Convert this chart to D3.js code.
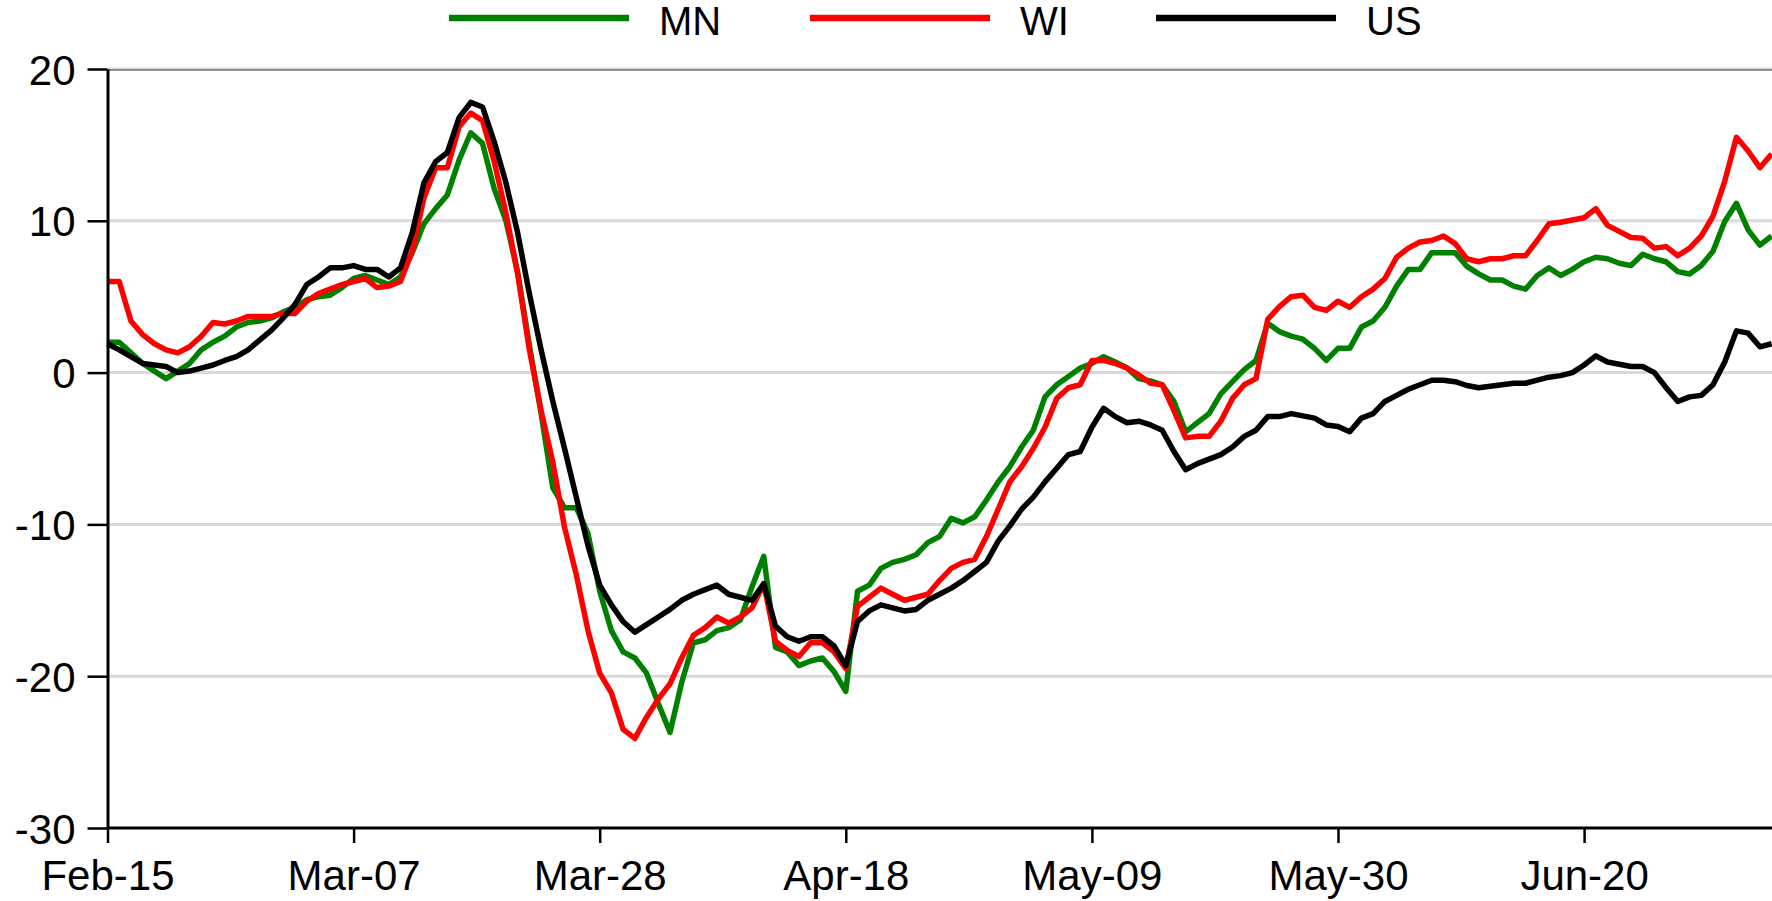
<!DOCTYPE html>
<html>
<head>
<meta charset="utf-8">
<script src="https://cdnjs.cloudflare.com/ajax/libs/d3/7.8.5/d3.min.js"></script>
<style>
  body { margin: 0; background: #fff; }
  svg { display: block; font-family: "Liberation Sans", Arial, sans-serif; }
</style>
</head>
<body>
<div id="vis"></div>
<script>
// daily values, starting Feb-15 (2020)
var startDate = '2020-02-15';

var mnValues = [
  2.0, 2.0, 1.3, 0.6, 0.1, -0.4, 0.1, 0.6, 1.5, 2.0,
  2.4, 3.0, 3.3, 3.4, 3.6, 4.0, 4.3, 4.8, 5.0, 5.1,
  5.6, 6.2, 6.4, 6.1, 5.8, 6.3, 7.9, 9.8, 10.8, 11.7,
  14.0, 15.8, 15.1, 12.1, 10.0, 6.6, 1.8, -2.7, -7.6, -8.9,
  -8.9, -10.6, -14.4, -17.0, -18.4, -18.8, -19.8, -21.8, -23.7, -20.4,
  -17.8, -17.6, -17.0, -16.8, -16.3, -14.1, -12.1, -18.1, -18.4, -19.3,
  -19.0, -18.8, -19.7, -21.0, -14.4, -14.0, -12.9, -12.5, -12.3, -12.0,
  -11.2, -10.8, -9.6, -9.9, -9.5, -8.4, -7.2, -6.2, -4.9, -3.8,
  -1.6, -0.8, -0.26, 0.3, 0.6, 1.05, 0.7, 0.3, -0.4, -0.55,
  -0.8, -1.9, -3.9, -3.3, -2.7, -1.4, -0.6, 0.2, 0.8, 3.25,
  2.7, 2.4, 2.2, 1.6, 0.8, 1.6, 1.6, 3.0, 3.4, 4.3,
  5.7, 6.8, 6.8, 7.9, 7.9, 7.9, 7.0, 6.5, 6.1, 6.1,
  5.7, 5.5, 6.4, 6.9, 6.4, 6.8, 7.3, 7.6, 7.5, 7.2,
  7.05, 7.8, 7.5, 7.3, 6.65, 6.5, 7.05, 8.0, 9.95, 11.15,
  9.4, 8.4, 9.0
];

var wiValues = [
  6.0, 6.0, 3.4, 2.5, 1.9, 1.5, 1.3, 1.7, 2.4, 3.3,
  3.2, 3.4, 3.7, 3.7, 3.7, 3.9, 3.9, 4.7, 5.2, 5.5,
  5.8, 6.0, 6.2, 5.6, 5.7, 6.0, 8.0, 11.5, 13.5, 13.5,
  16.2, 17.1, 16.6, 13.9, 10.5, 6.5, 1.5, -2.5, -5.9, -10.2,
  -13.3, -17.0, -19.8, -21.1, -23.5, -24.1, -22.7, -21.5, -20.5, -18.8,
  -17.3, -16.8, -16.1, -16.5, -16.1, -15.5, -13.9, -17.7, -18.3, -18.7,
  -17.8, -17.8, -18.4, -19.5, -15.4, -14.8, -14.2, -14.6, -15.0, -14.8,
  -14.6, -13.7, -12.9, -12.5, -12.3, -10.8, -9.0, -7.2, -6.2, -5.0,
  -3.6, -1.7, -1.0, -0.8, 0.8, 0.8, 0.6, 0.3, -0.15, -0.7,
  -0.8, -2.5, -4.3, -4.2, -4.2, -3.2, -1.7, -0.8, -0.4, 3.5,
  4.35, 5.0, 5.1, 4.3, 4.1, 4.7, 4.3, 5.0, 5.5, 6.2,
  7.6, 8.2, 8.6, 8.7, 9.0, 8.5, 7.5, 7.3, 7.5, 7.5,
  7.7, 7.7, 8.7, 9.8, 9.9, 10.05, 10.2, 10.8, 9.7, 9.3,
  8.9, 8.85, 8.2, 8.3, 7.7, 8.2, 9.0, 10.3, 12.6, 15.5,
  14.6, 13.5, 14.4
];

var usValues = [
  1.9, 1.5, 1.05, 0.6, 0.5, 0.4, 0.0, 0.1, 0.3, 0.5,
  0.8, 1.05, 1.5, 2.15, 2.8, 3.6, 4.5, 5.8, 6.3, 6.9,
  6.9, 7.05, 6.8, 6.8, 6.3, 6.9, 9.2, 12.5, 13.9, 14.5,
  16.8, 17.8, 17.5, 15.2, 12.5, 9.2, 5.2, 1.5, -1.9, -5.0,
  -8.2, -11.4, -14.0, -15.3, -16.4, -17.1, -16.6, -16.1, -15.6, -15.0,
  -14.6, -14.3, -14.0, -14.6, -14.8, -15.0, -13.9, -16.7, -17.4, -17.7,
  -17.4, -17.4, -18.0, -19.3, -16.4, -15.7, -15.3, -15.5, -15.7, -15.6,
  -15.0, -14.6, -14.2, -13.7, -13.1, -12.5, -11.1, -10.1, -9.0, -8.2,
  -7.2, -6.3, -5.4, -5.2, -3.6, -2.35, -2.9, -3.3, -3.2, -3.45,
  -3.8, -5.2, -6.4, -6.0, -5.7, -5.4, -4.9, -4.2, -3.8, -2.9,
  -2.9, -2.7, -2.85, -3.0, -3.45, -3.55, -3.9, -3.0, -2.7, -1.9,
  -1.5, -1.1, -0.8, -0.5, -0.5, -0.6, -0.85, -1.0, -0.9, -0.8,
  -0.7, -0.7, -0.5, -0.3, -0.2, 0.0, 0.5, 1.1, 0.7, 0.55,
  0.4, 0.4, 0.0, -1.0, -1.9, -1.6, -1.5, -0.8, 0.7, 2.75,
  2.6, 1.7, 1.9
];

var seriesNames = ['MN', 'WI', 'US'];
var seriesColors = ['#008000', '#ff0000', '#000000'];
var yTicks = [20, 10, 0, -10, -20, -30];
var xTickLabels = ['Feb-15', 'Mar-07', 'Mar-28', 'Apr-18', 'May-09', 'May-30', 'Jun-20'];

// page size and plot frame
var width = 1772;
var height = 901;
var margin = { top: 69, left: 107.5, bottom: 73, right: 0 };

var parseDay = d3.timeParse('%Y-%m-%d');
var fmtTick = d3.timeFormat('%b-%d');
var day0 = parseDay(startDate);
var dates = mnValues.map(function (d, i) { return d3.timeDay.offset(day0, i); });

var x = d3.scaleTime()
  .domain([day0, dates[dates.length - 1]])
  .range([margin.left, width - 0.4]);

var y = d3.scaleLinear()
  .domain([-30, 20])
  .range([height - margin.bottom, margin.top]);

var svg = d3.select('#vis').append('svg')
  .attr('width', width)
  .attr('height', height);

// horizontal gridlines
svg.append('g')
  .selectAll('line')
  .data(yTicks.filter(function (t) { return t > -30; }))
  .join('line')
  .attr('x1', margin.left)
  .attr('x2', width)
  .attr('y1', function (d) { return y(d); })
  .attr('y2', function (d) { return y(d); })
  .attr('stroke', '#d9d9d9')
  .attr('stroke-width', 3);

// thin frame line along the top
svg.append('line')
  .attr('x1', margin.left)
  .attr('x2', width)
  .attr('y1', y(20) + 1)
  .attr('y2', y(20) + 1)
  .attr('stroke', '#3a3a3a')
  .attr('stroke-width', 1.2);

// series lines
var lineGen = d3.line()
  .x(function (d, i) { return x(dates[i]); })
  .y(function (d) { return y(d); });

var allSeries = [mnValues, wiValues, usValues];

svg.append('g')
  .selectAll('path')
  .data(allSeries)
  .join('path')
  .attr('d', lineGen)
  .attr('fill', 'none')
  .attr('stroke', function (d, i) { return seriesColors[i]; })
  .attr('stroke-width', 5.5)
  .attr('stroke-linejoin', 'round');

// y axis (plain hyphen for negatives, like the source)
var yAxis = d3.axisLeft(y)
  .tickValues(yTicks)
  .tickFormat(function (d) { return String(d); })
  .tickSize(20)
  .tickSizeOuter(0)
  .tickPadding(12);

var yG = svg.append('g')
  .attr('transform', 'translate(' + margin.left + ',0)')
  .call(yAxis);

// x axis
var xTickDates = xTickLabels.map(function (s) { return d3.timeParse('%Y-%b-%d')('2020-' + s); });

var xAxis = d3.axisBottom(x)
  .tickValues(xTickDates)
  .tickFormat(fmtTick)
  .tickSize(15)
  .tickSizeOuter(0)
  .tickPadding(17);

var xG = svg.append('g')
  .attr('transform', 'translate(0,' + y(-30) + ')')
  .call(xAxis);

xG.select('.domain').attr('d', 'M' + margin.left + ',0H' + width);

[yG, xG].forEach(function (g) {
  g.select('.domain')
    .attr('stroke', '#000')
    .attr('stroke-width', 3);
  g.selectAll('.tick line')
    .attr('stroke', '#000')
    .attr('stroke-width', 2.5);
  g.selectAll('.tick text')
    .attr('fill', '#000')
    .style('font-size', '42px')
    .style('font-family', '"Liberation Sans", Arial, sans-serif');
});

yG.selectAll('.tick text').attr('dy', '0.36em');

// legend across the top
var legendX = [449, 810, 1156];
var legend = svg.append('g');
var items = legend.selectAll('g')
  .data(seriesNames)
  .join('g')
  .attr('transform', function (d, i) { return 'translate(' + legendX[i] + ',18)'; });

items.append('line')
  .attr('x1', 0)
  .attr('x2', 180)
  .attr('stroke', function (d, i) { return seriesColors[i]; })
  .attr('stroke-width', 6.5);

items.append('text')
  .attr('x', 210)
  .attr('y', 17)
  .style('font-size', '40px')
  .attr('fill', '#000')
  .text(function (d) { return d; });
</script>
</body>
</html>
